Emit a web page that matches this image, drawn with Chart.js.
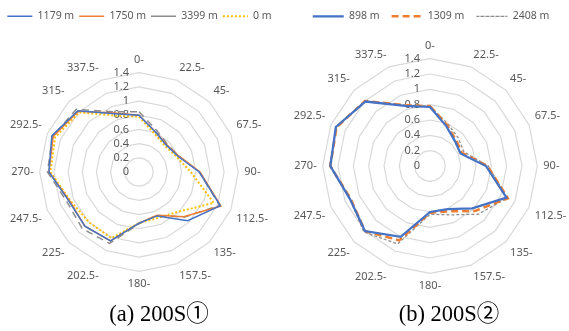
<!DOCTYPE html>
<html>
<head>
<meta charset="utf-8">
<script src="https://cdn.jsdelivr.net/npm/chart.js@4.4.1/dist/chart.umd.min.js"></script>
<style>
  body { margin: 0; width: 569px; height: 331px; background: #fff; overflow: hidden; position: relative; }
  .box { position: absolute; top: 0; height: 300px; }
  .cap { position: absolute; top: 295px; width: 170px; text-align: center;
         font: 22.5px "Liberation Serif", "Noto Sans CJK JP", serif; color: #000; }
</style>
</head>
<body>
<div class="box" style="left:0;width:285px"><canvas id="chartA"></canvas></div>
<div class="box" style="left:285px;width:284px"><canvas id="chartB"></canvas></div>
<div class="cap" style="left:74px">(a) 200S①</div>
<div class="cap" style="left:364px">(b) 200S②</div>
<script>
// wind directions (deg), clockwise from north
const directions = ['0-', '22.5-', '45-', '67.5-', '90-', '112.5-', '135-', '157.5-',
  '180-', '202.5-', '225-', '247.5-', '270-', '292.5-', '315-', '337.5-'];
const radialTicks = [0, 0.2, 0.4, 0.6, 0.8, 1, 1.2, 1.4];

// (a) 200S①
const a1179 = [0.80, 0.61, 0.54, 0.59, 0.85, 1.24, 0.97, 0.67, 0.72, 1.05, 1.08, 1.07, 1.27, 1.33, 1.22, 0.89];
const a1750 = [0.80, 0.61, 0.55, 0.60, 0.86, 1.25, 0.89, 0.66, 0.72, 1.05, 1.08, 1.06, 1.27, 1.31, 1.21, 0.90];
const a3399 = [0.85, 0.64, 0.56, 0.60, 0.85, 1.23, 0.90, 0.66, 0.73, 1.09, 1.13, 1.10, 1.29, 1.32, 1.25, 0.92];
const a0 = [0.78, 0.58, 0.52, 0.57, 0.73, 1.14, 0.79, 0.70, 0.72, 1.01, 1.00, 1.05, 1.25, 1.28, 1.19, 0.86];

// (b) 200S②
const b898 = [0.77, 0.56, 0.46, 0.43, 0.73, 1.08, 0.78, 0.61, 0.60, 1.00, 1.20, 1.13, 1.30, 1.33, 1.19, 0.85];
const b1309 = [0.78, 0.58, 0.48, 0.45, 0.75, 1.10, 0.83, 0.64, 0.61, 1.05, 1.20, 1.12, 1.30, 1.32, 1.20, 0.86];
const b2408 = [0.78, 0.60, 0.52, 0.48, 0.76, 1.09, 0.89, 0.69, 0.63, 1.10, 1.22, 1.13, 1.31, 1.32, 1.20, 0.86];

const grey = '#595959';

// excel style value labels, left of the vertical axis
const tickLabels = {
  id: 'tickLabels',
  beforeDatasetsDraw(chart) {
    const s = chart.scales.r;
    const ctx = chart.ctx;
    ctx.save();
    ctx.font = '11px "Noto Sans"';
    ctx.fillStyle = grey;
    ctx.textAlign = 'right';
    ctx.textBaseline = 'middle';
    radialTicks.forEach((v) => {
      ctx.fillText(String(v), s.xCenter - 10, s.yCenter - s.getDistanceFromCenterForValue(v));
    });
    ctx.restore();
  },
};

// extra room under the legend
const legendGap = (px) => ({
  id: 'legendGap',
  beforeInit(chart) {
    const fit = chart.legend.fit;
    chart.legend.fit = function () {
      fit.call(this);
      this.height += px;
    };
  },
});

const line = (label, data, color, width, dash) => ({
  label,
  data,
  borderColor: color,
  backgroundColor: 'transparent',
  borderWidth: width,
  borderDash: dash,
  pointRadius: 0,
  fill: false,
});

const makeOptions = (boxW, gap, pad) => ({
  responsive: true,
  maintainAspectRatio: false,
  animation: false,
  layout: { padding: pad },
  scales: {
    r: {
      min: 0,
      max: 1.4,
      ticks: { display: false, stepSize: 0.2 },
      grid: { color: '#d9d9d9', lineWidth: 1.2 },
      angleLines: { display: false },
      pointLabels: { color: grey, font: { family: 'Noto Sans', size: 11 }, padding: 6 },
    },
  },
  plugins: {
    legend: {
      position: 'top',
      labels: {
        boxWidth: boxW,
        boxHeight: 0,
        padding: gap,
        color: grey,
        font: { family: 'Noto Sans', size: 10.5 },
      },
    },
    tooltip: { enabled: false },
  },
});

new Chart(document.getElementById('chartA'), {
  type: 'radar',
  data: {
    labels: directions,
    datasets: [
      line('1179 m', a1179, '#4472C4', 1.5, []),
      line('1750 m', a1750, '#ED7D31', 1.5, []),
      line('3399 m', a3399, '#8C8C8C', 1.5, [7, 5]),
      line('0 m', a0, '#FFC000', 2, [2, 2]),
    ],
  },
  options: makeOptions(25, 5, { left: 0, right: 6, top: 6, bottom: 9 }),
  plugins: [tickLabels, legendGap(22)],
});

new Chart(document.getElementById('chartB'), {
  type: 'radar',
  data: {
    labels: directions,
    datasets: [
      line('898 m', b898, '#4472C4', 2.25, []),
      line('1309 m', b1309, '#ED7D31', 2.5, [7, 4]),
      line('2408 m', b2408, '#8C8C8C', 1.25, [3, 2]),
    ],
  },
  options: makeOptions(31, 12, { left: 8, right: 0, top: -1, bottom: 7 }),
  plugins: [tickLabels, legendGap(8)],
});
</script>
</body>
</html>
